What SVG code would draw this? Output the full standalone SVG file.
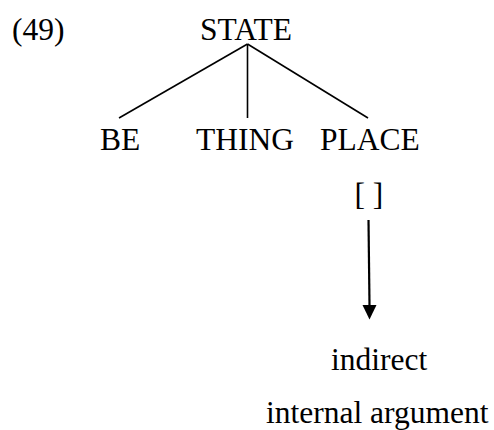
<svg xmlns="http://www.w3.org/2000/svg" width="494" height="430" viewBox="0 0 494 430">
  <style>
    .t { font-family: 'Liberation Serif', 'DejaVu Serif', serif; font-size: 31.5px; fill: #000; }
    .branch { stroke: #000; stroke-width: 1.6; fill: none; }
    .arrow { stroke: #000; stroke-width: 2.2; fill: none; }
  </style>

  <text class="t" id="example-number" x="12" y="40">(49)</text>

  <g id="connectors">
    <line class="branch" x1="247.5" y1="44" x2="119" y2="118"/>
    <line class="branch" x1="247.5" y1="44" x2="247.5" y2="118"/>
    <line class="branch" x1="247.5" y1="44" x2="368" y2="118"/>
    <path class="arrow" d="M368.5,220 L369.5,305"/>
    <path d="M362.5,305 L376.5,305 L369.5,319.5 Z" fill="#000"/>
  </g>

  <g id="state"><text class="t" x="200" y="40">STATE</text></g>
  <g id="be"><text class="t" x="100" y="150">BE</text></g>
  <g id="thing"><text class="t" x="196" y="150">THING</text></g>
  <g id="place"><text class="t" x="320" y="150">PLACE</text></g>
  <g id="slot"><text class="t" x="354.5" y="205">[ ]</text></g>
  <g id="argument">
    <text class="t" x="331" y="370">indirect</text>
    <text class="t" x="266" y="423">internal argument</text>
  </g>
</svg>
